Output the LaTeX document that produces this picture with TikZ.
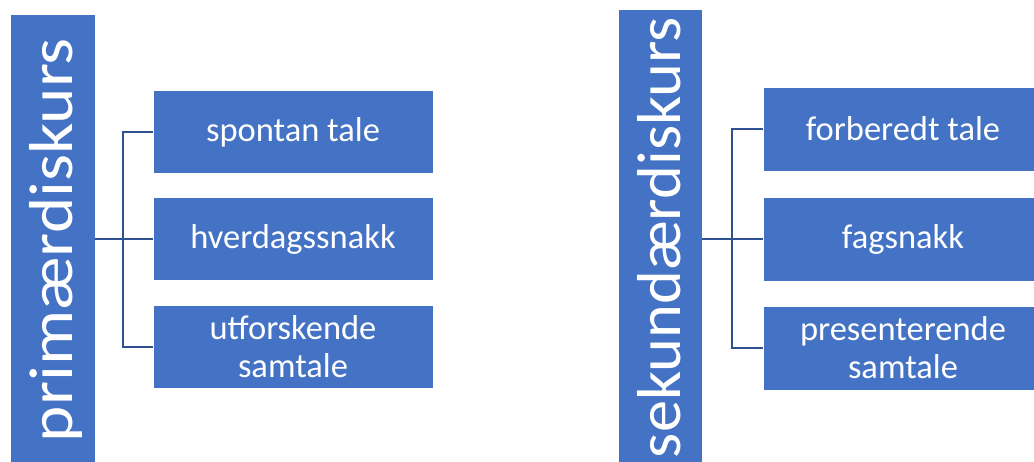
\documentclass[tikz,border=0pt]{standalone}
\usepackage{fontspec}
\setmainfont{Carlito}
\definecolor{boxblue}{HTML}{4472C4}
\definecolor{linkblue}{HTML}{2F528F}
\tikzset{
  barbox/.style={rectangle, fill=boxblue, draw=white, line width=0.6pt, inner sep=0pt},
  itembox/.style={rectangle, fill=boxblue, draw=white, line width=0.6pt, inner sep=0pt,
    minimum width=280pt, minimum height=83pt, text=white, align=center,
    font=\fontsize{34.5}{38}\selectfont},
  bartext/.style={rotate=90, anchor=base, text=white, inner sep=0pt},
  conn/.style={draw=linkblue, line width=1.8pt}
}
\begin{document}
\begin{tikzpicture}[x=1pt,y=-1pt]
\useasboundingbox (0,0) rectangle (1034,462);
% left group
\node[barbox, minimum width=85pt, minimum height=448pt] (barL) at (52.5,238) {};
\node[bartext] (tL) at (72,240) {\resizebox{404pt}{\height}{\fontsize{62}{70}\selectfont primærdiskurs}};
\node[itembox] (l1) at (293,132) {spontan tale};
\node[itembox] (l2) at (293,239) {hverdagssnakk};
\node[itembox] (l3) at (293,347) {utforskende\\samtale};
\coordinate (jL) at (123,239);
\draw[conn] (barL.east |- l2.west) -- (l2.west);
\draw[conn] (l1.west) -| (jL) |- (l3.west);
% right group
\node[barbox, minimum width=84pt, minimum height=453pt] (barR) at (660,235.5) {};
\node[bartext] (tR) at (680,237.5) {\resizebox{441pt}{\height}{\fontsize{62}{70}\selectfont sekundærdiskurs}};
\node[itembox, minimum height=84pt] (r1) at (903,129) {forberedt tale};
\node[itembox, minimum height=84pt] (r2) at (903,239) {fagsnakk};
\node[itembox, minimum height=84pt] (r3) at (903,348) {presenterende\\samtale};
\coordinate (jR) at (732,238);
\draw[conn] (barR.east |- r2.west) -- (r2.west);
\draw[conn] (r1.west) -| (jR) |- (r3.west);
\end{tikzpicture}
\end{document}
